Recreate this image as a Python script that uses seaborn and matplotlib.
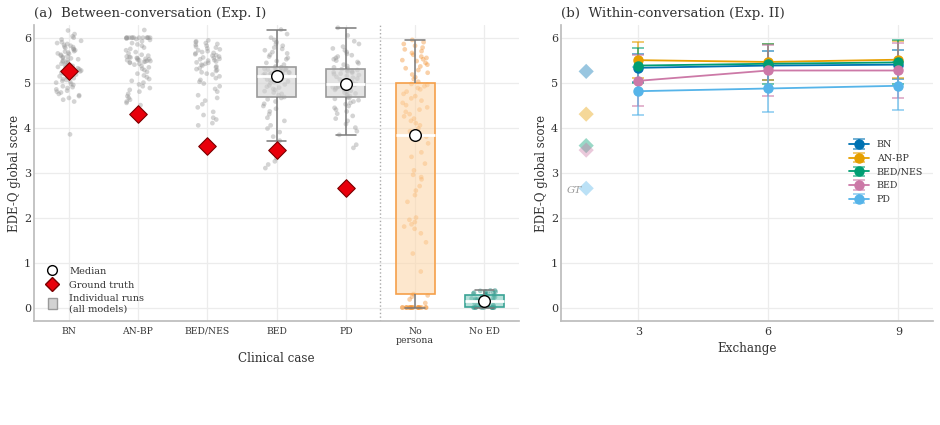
import numpy as np
import pandas as pd
import matplotlib
matplotlib.use("Agg")
import matplotlib.pyplot as plt
import seaborn as sns
from matplotlib.lines import Line2D
from matplotlib.patches import Patch
from matplotlib.colors import to_rgba

# ---- panel (a): individual runs per clinical case ----
cases = ["BN", "AN-BP", "BED/NES", "BED", "PD", "No persona", "No ED"]
case_ticks = ["BN", "AN-BP", "BED/NES", "BED", "PD", "No\npersona", "No ED"]

bn_runs = [3.85, 4.58, 4.62, 4.66, 4.70, 4.72, 4.75, 4.78, 4.80, 4.82, 4.85, 4.88, 4.90, 4.92,
           4.95, 4.97, 5.00, 5.02, 5.04, 5.06, 5.08, 5.10, 5.12, 5.14, 5.16, 5.18, 5.20, 5.22,
           5.24, 5.25, 5.27, 5.29, 5.30, 5.32, 5.34, 5.35, 5.37, 5.39, 5.40, 5.42, 5.44, 5.45,
           5.47, 5.49, 5.50, 5.52, 5.54, 5.55, 5.57, 5.59, 5.60, 5.62, 5.64, 5.65, 5.67, 5.69,
           5.70, 5.72, 5.74, 5.75, 5.77, 5.79, 5.80, 5.82, 5.84, 5.86, 5.88, 5.90, 5.93, 5.96,
           6.00, 6.03, 6.08, 6.16]
anbp_runs = [4.50, 4.55, 4.58, 4.62, 4.66, 4.70, 4.75, 4.80, 4.84, 4.88, 4.92, 4.96, 5.00, 5.04,
             5.08, 5.12, 5.16, 5.20, 5.24, 5.28, 5.31, 5.34, 5.37, 5.40, 5.42, 5.44, 5.45, 5.46,
             5.47, 5.48, 5.49, 5.50, 5.50, 5.51, 5.52, 5.53, 5.54, 5.55, 5.56, 5.57, 5.58, 5.60,
             5.62, 5.65, 5.68, 5.72, 5.75, 5.78, 5.82, 5.85, 5.88, 5.92, 5.95, 5.97, 5.98, 5.99,
             6.00, 6.00, 6.00, 6.00, 6.00, 6.00, 6.00, 6.00, 6.00, 6.00, 6.00, 6.00, 6.17]
bednes_runs = [4.05, 4.10, 4.18, 4.22, 4.28, 4.35, 4.45, 4.52, 4.60, 4.66, 4.72, 4.80, 4.86, 4.92,
               4.98, 5.02, 5.06, 5.10, 5.14, 5.18, 5.20, 5.23, 5.26, 5.28, 5.30, 5.32, 5.34, 5.36,
               5.38, 5.40, 5.42, 5.44, 5.45, 5.47, 5.49, 5.50, 5.52, 5.53, 5.55, 5.56, 5.58, 5.60,
               5.61, 5.63, 5.65, 5.66, 5.68, 5.70, 5.72, 5.74, 5.76, 5.78, 5.80, 5.82, 5.84, 5.86,
               5.88, 5.90, 5.92, 5.94]
bed_runs = [3.10, 3.18, 3.25, 3.32, 3.45, 3.71, 3.80, 3.90, 3.98, 4.05, 4.15, 4.22, 4.30, 4.36,
            4.42, 4.48, 4.53, 4.58, 4.63, 4.66, 4.68, 4.72, 4.75, 4.78, 4.81, 4.84, 4.86, 4.89,
            4.91, 4.94, 4.96, 4.99, 5.01, 5.03, 5.05, 5.07, 5.09, 5.11, 5.13, 5.14, 5.16, 5.17,
            5.18, 5.19, 5.20, 5.21, 5.22, 5.23, 5.24, 5.25, 5.26, 5.27, 5.28, 5.29, 5.30, 5.31,
            5.32, 5.33, 5.33, 5.34, 5.36, 5.40, 5.44, 5.48, 5.52, 5.55, 5.58, 5.62, 5.65, 5.68,
            5.72, 5.75, 5.78, 5.82, 5.86, 5.90, 5.95, 6.00, 6.08, 6.18]
pd_runs = [3.55, 3.62, 3.84, 3.92, 4.00, 4.08, 4.15, 4.20, 4.26, 4.31, 4.36, 4.40, 4.44, 4.48,
           4.52, 4.55, 4.58, 4.61, 4.64, 4.66, 4.68, 4.70, 4.72, 4.74, 4.76, 4.78, 4.80, 4.82,
           4.84, 4.85, 4.87, 4.88, 4.90, 4.91, 4.92, 4.93, 4.94, 4.95, 4.96, 4.97, 4.99, 5.01,
           5.03, 5.05, 5.07, 5.09, 5.11, 5.13, 5.15, 5.17, 5.19, 5.20, 5.22, 5.23, 5.24, 5.25,
           5.26, 5.27, 5.28, 5.30, 5.31, 5.34, 5.37, 5.40, 5.43, 5.46, 5.49, 5.52, 5.55, 5.58,
           5.61, 5.64, 5.68, 5.72, 5.76, 5.80, 5.86, 5.92, 6.05, 6.22]
nopersona_runs = [0.0, 0.0, 0.0, 0.0, 0.0, 0.0, 0.0, 0.0, 0.0, 0.0, 0.0, 0.0, 0.0, 0.0, 0.0, 0.0,
                  0.0, 0.0, 0.0, 0.0, 0.10, 0.18, 0.24, 0.27, 0.30, 0.80, 1.20, 1.45, 1.65, 1.75,
                  1.80, 1.85, 1.90, 1.95, 2.00, 2.35, 2.50, 2.60, 2.70, 2.85, 2.90, 2.95, 3.05,
                  3.20, 3.35, 3.45, 3.65, 3.80, 3.86, 3.92, 3.98, 4.05, 4.10, 4.15, 4.20, 4.25,
                  4.30, 4.35, 4.40, 4.45, 4.50, 4.55, 4.60, 4.65, 4.70, 4.75, 4.80, 4.85, 4.88,
                  4.92, 4.95, 4.97, 5.02, 5.08, 5.12, 5.18, 5.22, 5.28, 5.32, 5.36, 5.40, 5.44,
                  5.48, 5.50, 5.52, 5.55, 5.58, 5.62, 5.66, 5.70, 5.74, 5.78, 5.82, 5.86, 5.90, 5.95]
noed_runs = [0.0, 0.0, 0.0, 0.0, 0.0, 0.0, 0.0, 0.0, 0.0, 0.0, 0.0, 0.0, 0.02, 0.03, 0.04, 0.05,
             0.06, 0.07, 0.08, 0.09, 0.10, 0.11, 0.12, 0.13, 0.15, 0.16, 0.17, 0.18, 0.19, 0.20,
             0.21, 0.22, 0.23, 0.24, 0.25, 0.27, 0.28, 0.29, 0.30, 0.31, 0.32, 0.33, 0.34, 0.35,
             0.36, 0.37, 0.38, 0.38]
ground_truth = [5.25, 4.30, 3.60, 3.50, 2.65]

# ---- panel (b): within-conversation means +- sd ----
exchanges = [3, 6, 9]
bn_mean = [5.33, 5.38, 5.40]
bn_sd = [0.31, 0.33, 0.33]
anbp_mean = [5.50, 5.46, 5.51]
anbp_sd = [0.40, 0.41, 0.41]
bednes_mean = [5.38, 5.42, 5.45]
bednes_sd = [0.38, 0.45, 0.49]
bed_mean = [5.04, 5.27, 5.27]
bed_sd = [0.57, 0.57, 0.62]
pd_mean = [4.81, 4.87, 4.93]
pd_sd = [0.54, 0.53, 0.54]

runs = [bn_runs, anbp_runs, bednes_runs, bed_runs, pd_runs, nopersona_runs, noed_runs]
df = pd.DataFrame({
    "case": [c for c, r in zip(cases, runs) for _ in r],
    "score": [v for r in runs for v in r],
})

sns.set_theme(style="whitegrid")
plt.rcParams["font.family"] = ["DejaVu Serif"]
plt.rcParams["grid.color"] = "#ececec"
plt.rcParams["axes.edgecolor"] = "#bdbdbd"
plt.rcParams["text.color"] = "#333333"
plt.rcParams["axes.labelcolor"] = "#333333"
plt.rcParams["xtick.color"] = "#333333"
plt.rcParams["ytick.color"] = "#333333"

np.random.seed(3)
fig, (ax1, ax2) = plt.subplots(1, 2, figsize=(9.4, 4.25),
                               gridspec_kw=dict(width_ratios=[485, 372]))
fig.subplots_adjust(left=0.0362, right=0.9926, bottom=0.2447, top=0.941, wspace=0.098)

strip_pal = {"BN": "#959595", "AN-BP": "#959595", "BED/NES": "#959595", "BED": "#959595",
             "PD": "#959595", "No persona": "#f28e2b", "No ED": "#17877a"}
sns.stripplot(data=df, x="case", y="score", order=cases, hue="case", palette=strip_pal,
              jitter=0.19, size=3.4, alpha=0.4, linewidth=0, legend=False, ax=ax1, zorder=1)

box_groups = [
    (["BED", "PD"], "#d2d2d2", 0.6, "#9a9a9a"),
    (["No persona"], "#fdd5a5", 0.55, "#f5a04a"),
    (["No ED"], "#6cc3b5", 0.5, "#3aa395"),
]
for sub, fc, a, ec in box_groups:
    sns.boxplot(data=df[df["case"].isin(sub)], x="case", y="score", order=cases,
                width=0.56, showfliers=False, ax=ax1,
                boxprops=dict(facecolor=to_rgba(fc, a), edgecolor=ec, linewidth=1.2, zorder=2),
                whiskerprops=dict(color="#7a7a7a", linewidth=1.1),
                capprops=dict(color="#7a7a7a", linewidth=1.1),
                medianprops=dict(color="white", linewidth=2))

boxed = ["BED", "PD", "No persona", "No ED"]
med_x = [cases.index(c) for c in boxed]
med_y = [np.median(runs[cases.index(c)]) for c in boxed]
ax1.scatter(med_x, med_y, s=70, marker="o", facecolor="white", edgecolor="black",
            linewidth=1.0, zorder=5)
ax1.scatter(range(len(ground_truth)), ground_truth, s=80, marker="D", facecolor="#e8000b",
            edgecolor="#7a0000", linewidth=0.8, zorder=6)
ax1.axvline(4.5, color="#aaaaaa", linestyle=":", linewidth=1.0, zorder=0)

ax1.set_xlim(-0.5, 6.5)
ax1.set_ylim(-0.3, 6.28)
ax1.set_xticks(range(len(cases)))
ax1.set_xticklabels(case_ticks, fontsize=6.7, linespacing=1.0)
ax1.tick_params(axis="x", pad=4, length=0)
ax1.tick_params(axis="y", labelsize=8, pad=2, length=0)
ax1.set_xlabel("Clinical case", fontsize=8.6, labelpad=5)
ax1.set_ylabel("EDE-Q global score", fontsize=8.5, labelpad=2)
ax1.set_title("(a)  Between-conversation (Exp. I)", loc="left", fontsize=9.6, pad=6)

handles = [
    Line2D([], [], marker="o", linestyle="", markerfacecolor="white", markeredgecolor="black",
           markersize=7),
    Line2D([], [], marker="D", linestyle="", markerfacecolor="#e8000b", markeredgecolor="#7a0000",
           markersize=7),
    Patch(facecolor="#d2d2d2", edgecolor="#9a9a9a"),
]
ax1.legend(handles, ["Median", "Ground truth", "Individual runs\n(all models)"],
           loc="lower left", bbox_to_anchor=(0.012, 0.0), frameon=False, fontsize=7,
           handlelength=1.0, handleheight=1.3, handletextpad=1.2, borderaxespad=0.4,
           labelspacing=0.35)

# ---- panel (b) ----
line_colors = ["#0072b2", "#e69f00", "#009e73", "#cc79a7", "#56b4e9"]
line_labels = ["BN", "AN-BP", "BED/NES", "BED", "PD"]
means = [bn_mean, anbp_mean, bednes_mean, bed_mean, pd_mean]
sds = [bn_sd, anbp_sd, bednes_sd, bed_sd, pd_sd]
for lab, col, m, s in zip(line_labels, line_colors, means, sds):
    ax2.errorbar(exchanges, m, yerr=s, color=col, ecolor=to_rgba(col, 0.65), marker="o",
                 markersize=6.5, linewidth=1.3, elinewidth=1.3, capsize=4, capthick=1.2,
                 label=lab)
ax2.scatter([1.8] * len(ground_truth), ground_truth, c=line_colors, marker="D", s=60,
            alpha=0.4, linewidth=0, zorder=3)
ax2.text(1.7, 2.6, "GT", fontsize=7.5, style="italic", color="#999999", ha="right", va="center")

ax2.set_xlim(1.22, 9.8)
ax2.set_ylim(-0.3, 6.28)
ax2.set_xticks(exchanges)
ax2.tick_params(labelsize=8, pad=4, length=0)
ax2.tick_params(axis="y", pad=2)
ax2.set_xlabel("Exchange", fontsize=8.6, labelpad=4)
ax2.set_ylabel("EDE-Q global score", fontsize=8.5, labelpad=2)
ax2.set_title("(b)  Within-conversation (Exp. II)", loc="left", fontsize=9.6, pad=6)
ax2.legend(loc="upper left", bbox_to_anchor=(0.75, 0.64), frameon=False, fontsize=6.8,
           handlelength=2.2, labelspacing=0.5)

for ax in (ax1, ax2):
    sns.despine(ax=ax)
    ax.grid(True, color="#ececec", linewidth=0.9)
    for side in ("left", "bottom"):
        ax.spines[side].set_color("#bdbdbd")

fig.savefig("out.png", dpi=100)
plt.close(fig)
